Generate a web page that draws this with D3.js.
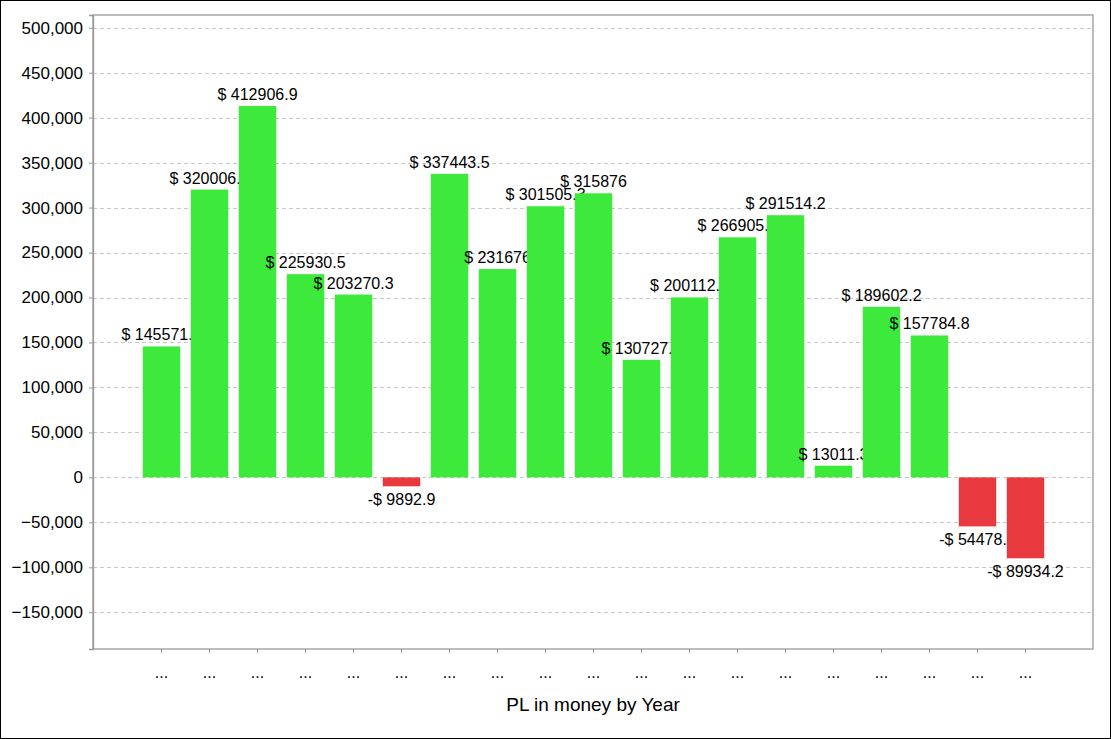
<!DOCTYPE html>
<html>
<head>
<meta charset="utf-8">
<script src="https://cdn.jsdelivr.net/npm/d3@7"></script>
<style>
  html, body { margin: 0; padding: 0; background: #fff; }
  svg { display: block; }
  text { font-family: "Liberation Sans", Arial, sans-serif; fill: #000; }
</style>
</head>
<body>
<script>
// ---- data ----
const categories = d3.range(19).map(i => "c" + i);
const tickLabels = ["...", "...", "...", "...", "...", "...", "...", "...", "...", "...",
                    "...", "...", "...", "...", "...", "...", "...", "...", "..."];
const values = [145571.4, 320006.4, 412906.9, 225930.5, 203270.3, -9892.9, 337443.5,
                231676, 301505.3, 315876, 130727.4, 200112.6, 266905.7, 291514.2,
                13011.3, 189602.2, 157784.8, -54478.6, -89934.2];
const yTicks = [-150000, -100000, -50000, 0, 50000, 100000, 150000, 200000, 250000,
                300000, 350000, 400000, 450000, 500000];
const xTitle = "PL in money by Year";

const W = 1111, H = 739;
const plot = { left: 93, right: 1093, top: 15, bottom: 649 };

const svg = d3.select("body").append("svg").attr("width", W).attr("height", H);

// outer border
svg.append("rect").attr("x", 0.5).attr("y", 0.5).attr("width", W - 1).attr("height", H - 1)
  .attr("fill", "#fff").attr("stroke", "#000").attr("stroke-width", 1);

const y = d3.scaleLinear().domain([-190800, 514100]).range([plot.bottom, plot.top]);
const x = d3.scaleBand().domain(categories).range([137.5, 1049.5])
  .paddingInner(0.22).paddingOuter(0.11);

// grid
svg.append("g").selectAll("line").data(yTicks).join("line")
  .attr("x1", plot.left).attr("x2", plot.right)
  .attr("y1", d => Math.round(y(d)) + 0.5).attr("y2", d => Math.round(y(d)) + 0.5)
  .attr("stroke", "#c8c8c8").attr("stroke-width", 1).attr("stroke-dasharray", "4,3");

// frame (top/right)
svg.append("rect").attr("x", plot.left).attr("y", plot.top)
  .attr("width", plot.right - plot.left).attr("height", plot.bottom - plot.top)
  .attr("fill", "none").attr("stroke", "#999").attr("stroke-width", 1.3);

// y axis
const yAxis = d3.axisLeft(y).tickValues(yTicks).tickSize(4).tickPadding(6)
  .tickFormat(d3.format(","));
const gy = svg.append("g").attr("transform", `translate(${plot.left},0)`).call(yAxis);
gy.select(".domain").attr("stroke", "#999").attr("stroke-width", 1.3);
gy.selectAll(".tick line").attr("stroke", "#999");
gy.selectAll(".tick text").style("font-size", "17px")
  .style("font-family", "'Liberation Sans', Arial, sans-serif").attr("fill", "#000");

// x axis
const xAxis = d3.axisBottom(x).tickSize(4).tickPadding(14)
  .tickFormat((d, i) => tickLabels[i]);
const gx = svg.append("g").attr("transform", `translate(0,${plot.bottom})`).call(xAxis);
gx.select(".domain").remove();
gx.selectAll(".tick line").attr("stroke", "#999");
gx.selectAll(".tick text").style("font-size", "16px")
  .style("font-family", "'Liberation Sans', Arial, sans-serif").attr("fill", "#000");

// bars + labels, drawn sequentially so later bars cover earlier labels
const fmt = v => (v < 0 ? "-$ " : "$ ") + String(Math.abs(v));
const groups = svg.append("g").selectAll("g").data(values).join("g");
groups.append("rect")
  .attr("x", (d, i) => x(categories[i]))
  .attr("width", x.bandwidth())
  .attr("y", d => y(Math.max(0, d)))
  .attr("height", d => Math.abs(y(d) - y(0)))
  .attr("fill", d => d >= 0 ? "#3de93b" : "#e8393e");
groups.append("text")
  .attr("x", (d, i) => x(categories[i]) + x.bandwidth() / 2)
  .attr("y", d => d >= 0 ? y(d) - 6 : y(d) + 19)
  .attr("text-anchor", "middle")
  .style("font-size", "16px")
  .text(fmt);

// x title
svg.append("text").attr("x", (plot.left + plot.right) / 2).attr("y", 711)
  .attr("text-anchor", "middle").style("font-size", "19px").text(xTitle);
</script>
</body>
</html>
